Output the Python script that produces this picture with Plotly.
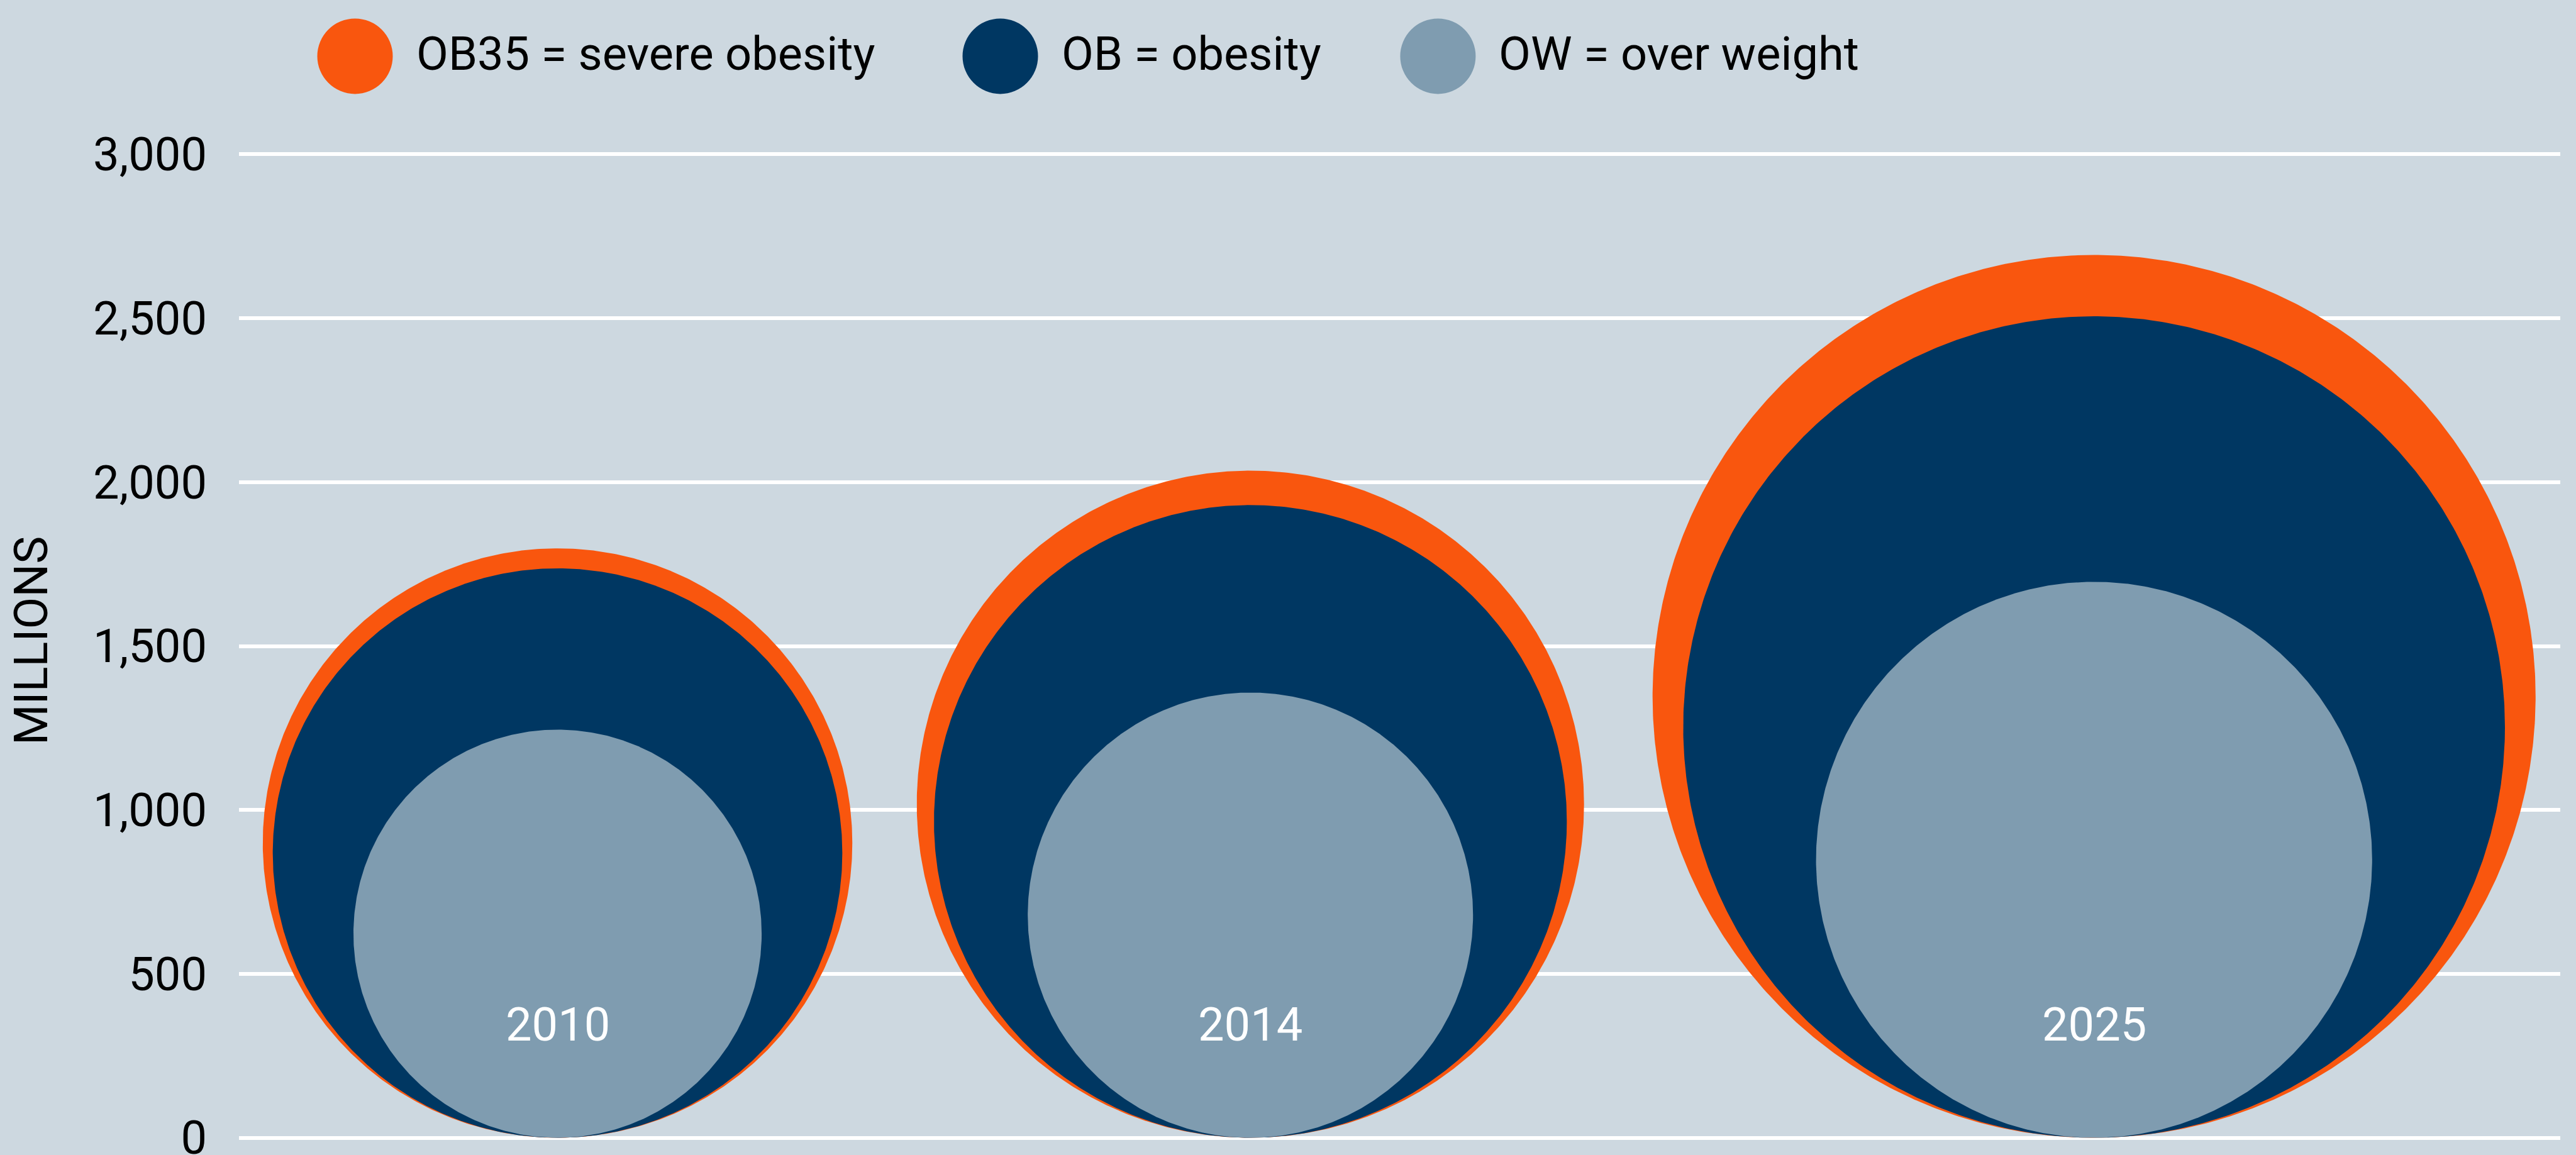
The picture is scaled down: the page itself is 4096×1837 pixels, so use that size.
import numpy as np
import plotly.graph_objects as go

# ---------------- data ----------------
years = ["2010", "2014", "2025"]
ob35 = [1798, 2035, 2693]   # OB35 = severe obesity (millions)
ob = [1737, 1930, 2506]     # OB = obesity
ow = [1245, 1358, 1696]     # OW = over weight
series_names = ["OB35 = severe obesity", "OB = obesity", "OW = over weight"]
tick_vals = [0, 500, 1000, 1500, 2000, 2500, 3000]
tick_text = ["0", "500", "1,000", "1,500", "2,000", "2,500", "3,000"]

# ---------------- layout / style ----------------
W, H = 4096, 1837
M_L, M_R, M_T, M_B = 380, 25, 235, 17
PLOT_W = W - M_L - M_R
PLOT_H = H - M_T - M_B
Y_MIN, Y_MAX = -20, 3020
PX_PER_UNIT = PLOT_H / (Y_MAX - Y_MIN)
X_SPAN = PLOT_W / PX_PER_UNIT          # keep circles round
category_x = [971.5, 3084.5, 5657.5]   # horizontal centre of each year's bubble group
label_y = 346

BG = "#CDD8E0"
COLORS = ["#F9560E", "#003762", "#7F9CB0"]
FONT = "Roboto"
FS = 74


def px_to_paper_x(px):
    return (px - M_L) / PLOT_W


def px_to_paper_y(py):
    return (H - M_B - py) / PLOT_H


fig = go.Figure()

theta = np.linspace(0, 2 * np.pi, 721)
for s_idx, vals in enumerate([ob35, ob, ow]):
    for i, v in enumerate(vals):
        r = v / 2.0
        xs = category_x[i] + r * np.cos(theta)
        ys = r + r * np.sin(theta)
        fig.add_trace(go.Scatter(
            x=xs, y=ys, mode="lines", fill="toself",
            fillcolor=COLORS[s_idx], line=dict(width=0, color=COLORS[s_idx]),
            name=series_names[s_idx], showlegend=False, hoverinfo="skip",
        ))

# year labels
for i, yr in enumerate(years):
    fig.add_annotation(x=category_x[i], y=label_y, xref="x", yref="y",
                       text=yr, showarrow=False,
                       font=dict(family=FONT, size=FS, color="white"),
                       xanchor="center", yanchor="middle")

# custom legend
legend_cx = [564.5, 1590.5, 2286.4]
legend_tx = [660.3, 1686.0, 2381.2]
legend_cy = 89.4
legend_text_y = 86
legend_d = 120
for k in range(3):
    fig.add_shape(type="circle", xref="paper", yref="paper",
                  xsizemode="pixel", ysizemode="pixel",
                  xanchor=px_to_paper_x(legend_cx[k]), yanchor=px_to_paper_y(legend_cy),
                  x0=-legend_d / 2, x1=legend_d / 2, y0=-legend_d / 2, y1=legend_d / 2,
                  fillcolor=COLORS[k], line=dict(width=0))
    fig.add_annotation(x=px_to_paper_x(legend_tx[k]), y=px_to_paper_y(legend_text_y),
                       xref="paper", yref="paper", text=series_names[k],
                       showarrow=False, xanchor="left", yanchor="middle",
                       font=dict(family=FONT, size=FS, color="black"))

# y-axis title
fig.add_annotation(x=px_to_paper_x(49), y=px_to_paper_y(1019), xref="paper", yref="paper",
                   text="MILLIONS", textangle=-90, showarrow=False,
                   xanchor="center", yanchor="middle",
                   font=dict(family=FONT, size=FS, color="black"))

fig.update_layout(
    width=W, height=H,
    margin=dict(l=M_L, r=M_R, t=M_T, b=M_B, pad=0, autoexpand=False),
    paper_bgcolor=BG, plot_bgcolor=BG,
    showlegend=False,
    font=dict(family=FONT, size=FS, color="black"),
    xaxis=dict(range=[0, X_SPAN], showgrid=False, zeroline=False, automargin=False,
               showticklabels=False, showline=False, fixedrange=True),
    yaxis=dict(range=[Y_MIN, Y_MAX], tickvals=tick_vals, ticktext=tick_text,
               showgrid=True, gridcolor="white", gridwidth=6, zeroline=False,
               showline=False, ticks="", ticklabelstandoff=50, automargin=False,
               ticklabeloverflow="allow",
               tickfont=dict(family=FONT, size=FS, color="black"), fixedrange=True),
)

fig.write_html(
    "out.html",
    config={"displayModeBar": False},
    post_script="document.body.style.margin='0';document.body.style.overflow='hidden';",
)
